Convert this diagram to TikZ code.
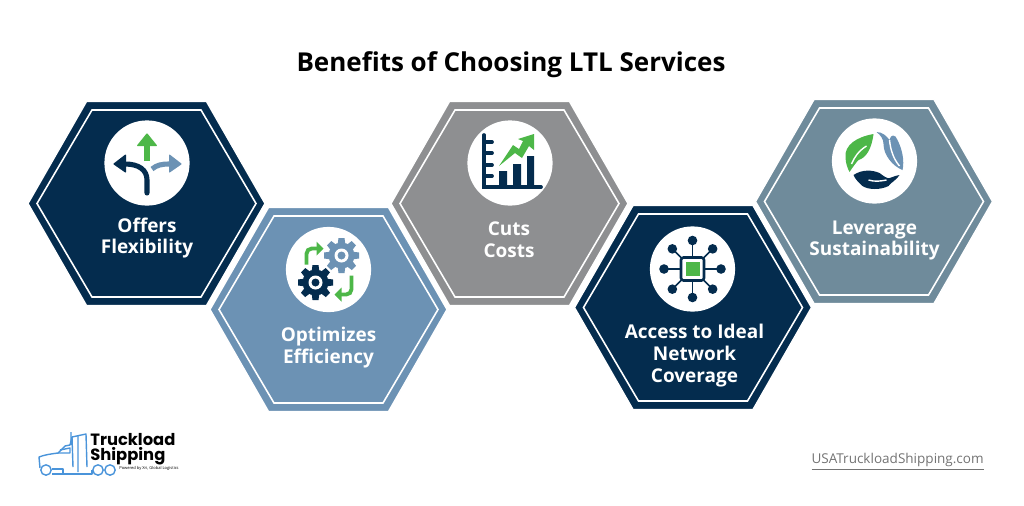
\documentclass[tikz,border=0pt]{standalone}
\usepackage{fontspec}
\setmainfont{Open Sans}
\newfontfamily\logofont{Poppins}
\usetikzlibrary{positioning}
\definecolor{navy}{HTML}{042C4E}
\definecolor{steel}{HTML}{6C92B4}
\definecolor{stone}{HTML}{8E8F91}
\definecolor{slate}{HTML}{6F8B9B}
\definecolor{leaf}{HTML}{4DB748}
\definecolor{truck}{HTML}{4A94DA}
\tikzset{
  hexbadge/.pic={
    \draw[white, line width=.8pt, fill=#1] (-118.5,0) -- (-60,-102) -- (60,-102) -- (118.5,0) -- (60,102) -- (-60,102) -- cycle;
    \draw[white, line width=.9pt] (-109.5,0) -- (-54.5,-93.5) -- (54.5,-93.5) -- (109.5,0) -- (54.5,93.5) -- (-54.5,93.5) -- cycle;
  },
  gearwheel/.pic={
    \foreach \a in {0,45,...,315}
      \fill[#1, rotate=\a] (-3,-17.5) -- (3,-17.5) -- (4,-10) -- (-4,-10) -- cycle;
    \fill[#1] (0,0) circle (13);
    \fill[white] (0,0) circle (7);
    \fill[#1] (0,0) circle (4);
  },
  badgetext/.style={white, font=\fontsize{10.8}{12.5}\selectfont\bfseries, align=center, inner sep=0pt},
}
\begin{document}
\begin{tikzpicture}[x=.02cm, y=-.02cm]
  \useasboundingbox (0,0) rectangle (1024,505);
  \node[font=\fontsize{14.8}{18}\selectfont\bfseries, inner sep=0pt] (title) at (511,64.5) {Benefits of Choosing LTL Services};

  % hexagons
  \pic at (146.5,203.5) {hexbadge=navy};
  \pic at (328.5,309.5) {hexbadge=steel};
  \pic at (509.5,203.5) {hexbadge=stone};
  \pic at (693,307.5) {hexbadge=navy};
  \pic at (874,201.5) {hexbadge=slate};

  % flexibility icon
  \begin{scope}[shift={(147,163)}]
    \fill[white] (0,0) circle (42.6);
    \draw[leaf, line width=2.9pt] (0,-2) -- (0,-18);
    \fill[leaf, rounded corners=.5pt] (-10.5,-17) -- (0,-30) -- (10.5,-17) -- cycle;
    \draw[steel, line width=2.9pt] (5,6) .. controls (10,2) and (14,1) .. (23,1);
    \fill[steel, rounded corners=.5pt] (22,-9) -- (35,1) -- (22,10) -- cycle;
    \draw[navy, line width=2.9pt, line cap=round] (0,30) -- (0,17) .. controls (0,7) and (-8,1) .. (-22,1);
    \fill[navy, rounded corners=.5pt] (-21,-9) -- (-34,1) -- (-21,10) -- cycle;
  \end{scope}

  % efficiency icon
  \begin{scope}[shift={(328.5,269.5)}]
    \fill[white] (0,0) circle (42.6);
    \pic at (13,-14) {gearwheel=steel};
    \pic at (-13,13) {gearwheel=navy};
    \draw[leaf, line width=2.2pt, rounded corners=3pt] (-22,-5) -- (-22,-21) -- (-11,-21);
    \fill[leaf] (-12,-28) -- (-5,-21) -- (-12,-14) -- cycle;
    \draw[leaf, line width=2.2pt, rounded corners=3pt] (23,6) -- (23,25) -- (12,25);
    \fill[leaf] (13,18) -- (6,25) -- (13,32) -- cycle;
  \end{scope}

  % costs icon
  \begin{scope}[shift={(510,163)}]
    \fill[white] (0,0) circle (42.6);
    \draw[navy, line width=2.1pt, line cap=round] (-26,-28) -- (-26,24) -- (31,24);
    \foreach \y in {-21,-10,2,13}
      \draw[navy, line width=2.1pt, line cap=round] (-26,\y) -- (-18,\y);
    \fill[navy] (-11,8) rectangle (-3,24) (3,1) rectangle (11,24) (17,-7) rectangle (24,24);
    \fill[leaf] (-11,3) -- (3,-18) -- (9,-14) -- (13,-22) -- (8,-24) -- (24,-29) -- (24,-13) -- (19,-17) -- (12,-5) -- (5,-10) -- cycle;
  \end{scope}

  % network icon
  \begin{scope}[shift={(692.5,269)}]
    \fill[white] (0,0) circle (42.6);
    \foreach \a in {0,45,...,315} {
      \draw[navy, line width=.9pt] (0,0) -- (\a:28.5);
      \fill[navy] (\a:28.5) circle (4.8);
    }
    \draw[navy, line width=1.5pt, fill=white, rounded corners=1.5pt] (-11.5,-11.5) rectangle (11.5,11.5);
    \fill[leaf] (-7,-7) rectangle (7,7);
  \end{scope}

  % sustainability icon
  \begin{scope}[shift={(874.5,161)}]
    \fill[white] (0,0) circle (42.6);
    \fill[leaf] (-1,-27) .. controls (-18,-24) and (-30,-16) .. (-29,-4) .. controls (-29,2) and (-27,7) .. (-25,11) .. controls (-21,5) and (-18,1) .. (-16,-1) .. controls (-9,-3) and (-3,-11) .. (-1,-27) -- cycle;
    \draw[white, line width=.8pt] (-8,-15) .. controls (-16,-10) and (-20,-4) .. (-23,3);
    \fill[steel] (2,-29) .. controls (8,-29) and (12,-25) .. (15,-21) .. controls (16,-27) and (21,-27) .. (23,-21) .. controls (28,-11) and (30,0) .. (28,9) .. controls (18,5) and (9,-6) .. (9,-17) .. controls (9,-22) and (6,-26) .. (2,-29) -- cycle;
    \draw[white, line width=.8pt] (15,-21) .. controls (16,-11) and (19,-2) .. (25,5);
    \fill[navy] (-21,14) .. controls (-12,8) and (-2,9) .. (5,12) .. controls (9,15) and (13,18) .. (15,17) .. controls (19,16) and (22,14) .. (25,14) .. controls (22,19) and (17,21) .. (14,25) .. controls (6,29) and (-6,29) .. (-12,25) .. controls (-15,22) and (-19,19) .. (-21,14) -- cycle;
    \draw[white, line width=.8pt] (-6,19) .. controls (0,21) and (7,20) .. (12,19);
  \end{scope}

  % labels
  \node[badgetext] (offers) at (147,238) {Offers\\Flexibility};
  \node[badgetext] (optimizes) at (328.5,348) {Optimizes\\Efficiency};
  \node[badgetext] (cuts) at (509,239.5) {Cuts\\Costs};
  \node[badgetext] (access) at (694.5,355.5) {Access to Ideal\\Network\\Coverage};
  \node[badgetext] (leverage) at (874.5,240.5) {Leverage\\Sustainability};

  % truck logo
  \begin{scope}[truck, line width=.8pt, line join=round]
    \draw (46,470) circle (5.2) (98,470) circle (5.2) (110,470) circle (5.2);
    \draw (40,468) -- (39,457) .. controls (44,455) and (50,454) .. (58,453) -- (65,446) -- (70,445) -- (72,437) -- (86,434) -- (87,467);
    \draw (72,437) -- (73,467) (71,432) -- (71,445);
    \draw (52,474) -- (92,474) -- (92,470) (52,469) -- (63,469) -- (63,474);
    \draw (60,450) -- (70,448) -- (70,453) -- (58,453) (78,436) -- (78,472);
  \end{scope}
  \node[font=\logofont\fontsize{9.3}{9.4}\selectfont\bfseries, inner sep=0pt, anchor=west] (truckload) at (90,440) {Truckload};
  \node[font=\logofont\fontsize{9.3}{9.4}\selectfont\bfseries, inner sep=0pt, anchor=west] (shipping) at (90,456) {Shipping};
  \node[font=\fontsize{2.3}{3}\selectfont, inner sep=0pt, anchor=west] (powered) at (119,468.5) {Powered by Xri, Global Logistics};

  \node[font=\fontsize{7.7}{9}\selectfont, text=black!55, inner sep=0pt, anchor=east] (site) at (984,462) {\underline{USATruckloadShipping.com}};
\end{tikzpicture}
\end{document}
